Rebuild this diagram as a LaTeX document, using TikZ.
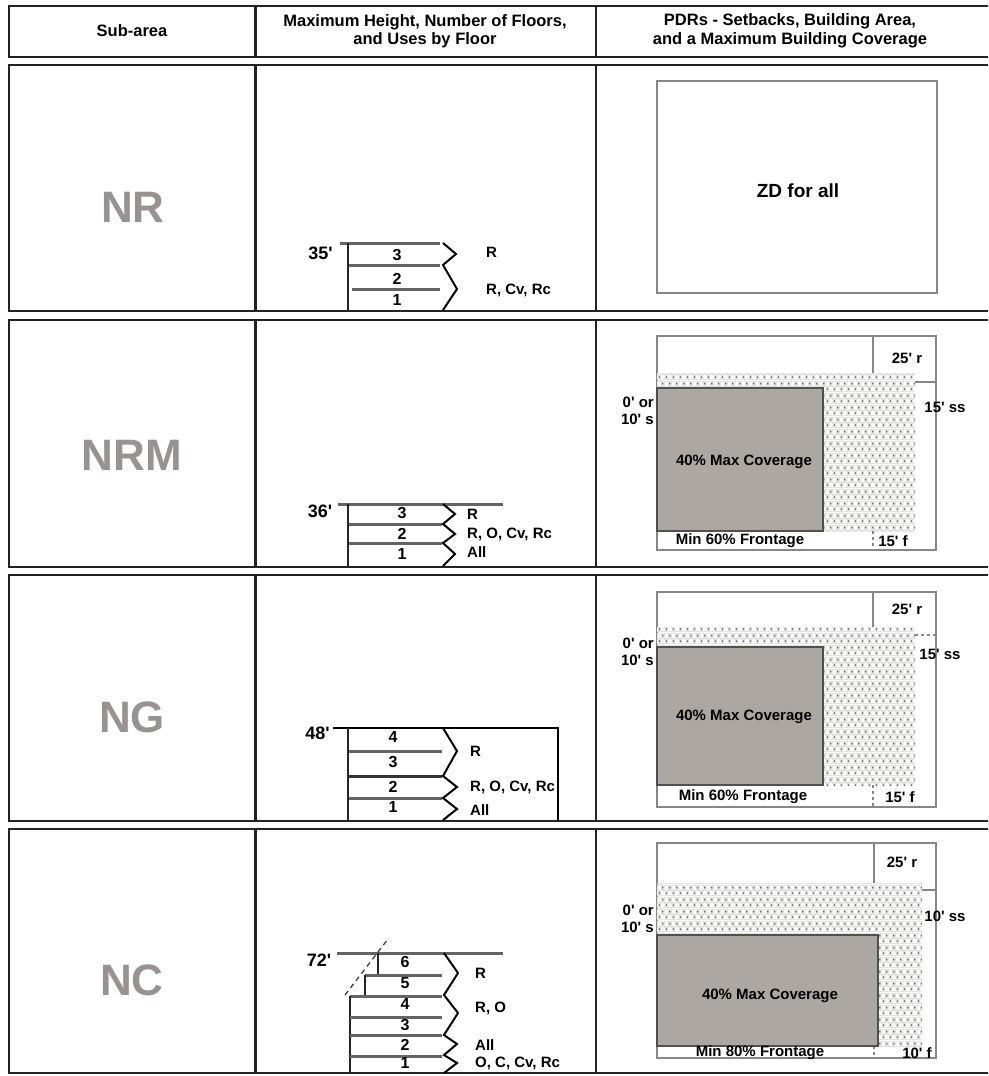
\documentclass[tikz,border=0pt]{standalone}
\usepackage{fontspec}
\setmainfont{Liberation Sans}
\usetikzlibrary{patterns.meta}
\definecolor{border}{RGB}{35,35,35}
\definecolor{areagray}{RGB}{152,146,146}
\definecolor{floorgray}{RGB}{100,100,100}
\definecolor{bldfill}{RGB}{172,167,162}
\definecolor{bldedge}{RGB}{80,80,80}
\definecolor{lotline}{RGB}{135,135,135}
\definecolor{stipbg}{RGB}{226,226,224}
\definecolor{stipdot}{RGB}{100,100,100}
\newcommand\qt{\textquotesingle}
\tikzdeclarepattern{
  name=stipple,
  type=colored,
  bounding box={(0pt,0pt) and (7pt,12pt)},
  tile size={(7pt,12pt)},
  code={
    \fill[stipbg] (0pt,0pt) rectangle (7pt,12pt);
    \fill[white] (5.25pt,3pt) circle (2.3pt);
    \fill[white] (1.75pt,9pt) circle (2.3pt);
    \fill[stipdot] (1.0pt,2.2pt) rectangle (2.5pt,3.8pt);
    \fill[stipdot] (4.5pt,8.2pt) rectangle (6.0pt,9.8pt);
  }
}
\tikzset{
  cell/.style={draw=border, line width=2.8pt},
  hdr/.style={font=\fontsize{16.5}{18.5}\selectfont\bfseries, align=center, inner sep=0pt},
  area/.style={font=\fontsize{44}{48}\selectfont\bfseries, text=areagray, inner sep=0pt},
  lbl/.style={font=\fontsize{15}{17}\selectfont\bfseries, inner sep=0pt},
  numlbl/.style={font=\fontsize{16}{18}\selectfont\bfseries, inner sep=0pt},
  zdlbl/.style={font=\fontsize{19}{21}\selectfont\bfseries, inner sep=0pt},
  htlbl/.style={font=\fontsize{18}{20}\selectfont\bfseries, inner sep=0pt},
  floorln/.style={draw=floorgray, line width=3pt},
  wallln/.style={draw=black!85, line width=2.6pt},
  chev/.style={draw=black, line width=2pt, line join=miter},
  lot/.style={draw=lotline, line width=1.3pt},
  stip/.style={pattern={stipple}},
  bld/.style={fill=bldfill, draw=bldedge, line width=2.2pt},
}
\begin{document}
\begin{tikzpicture}[x=1pt,y=-1pt]
\clip (0,0) rectangle (988,1076);
\fill[white] (0,0) rectangle (988,1076);
% ---------- table cells ----------
\foreach \t/\b in {6/57, 65/311, 320/567, 575/821, 829/1073}{
  \draw[cell] (995,\t) -- (9,\t) -- (9,\b) -- (995,\b);
  \draw[cell] (255.5,\t) -- (255.5,\b);
  \draw[cell] (596,\t) -- (596,\b);
}
% ---------- header ----------
\node[hdr] (hsub) at (132,31) {Sub-area};
\node[hdr] (hmax) at (425,31) {Maximum Height, Number of Floors,\\and Uses by Floor};
\node[hdr] (hpdr) at (790,31) {PDRs - Setbacks, Building Area,\\and a Maximum Building Coverage};
% ---------- sub-area names ----------
\node[area] (nr) at (133,207) {NR};
\node[area] (nrm) at (132,455) {NRM};
\node[area] (ng) at (132,717) {NG};
\node[area] (nc) at (132,980) {NC};

% ========== NR floors ==========
\draw[floorln] (340,243) -- (440,243);
\draw[floorln] (348,265) -- (440,265);
\draw[floorln] (352,289) -- (440,289);
\draw[wallln] (348,243) -- (348,311);
\draw[chev] (443,243) -- (456,254) -- (443,265) -- (457,289) -- (443,310);
\node[htlbl] (nrh) at (320.5,253) {35\qt};
\node[numlbl] (nrf3) at (397,255) {3};
\node[numlbl] (nrf2) at (397,279) {2};
\node[numlbl] (nrf1) at (397,300) {1};
\node[lbl, anchor=west] (nru1) at (486,252) {R};
\node[lbl, anchor=west] (nru2) at (486,290) {R, Cv, Rc};
% NR setbacks
\draw[lot] (657,81) rectangle (937,293);
\node[zdlbl] (zd) at (798,191) {ZD for all};

% ========== NRM floors ==========
\draw[floorln] (338,504) -- (503,504);
\draw[floorln] (348,524) -- (442,524);
\draw[floorln] (348,543) -- (442,543);
\draw[wallln] (348,504) -- (348,567);
\draw[chev] (443,504) -- (455,514) -- (443,524) -- (455,534) -- (443,543) -- (455,554) -- (443,566);
\node[htlbl] (nrmh) at (320,511) {36\qt};
\node[numlbl] (nrmf3) at (402,513) {3};
\node[numlbl] (nrmf2) at (402,534) {2};
\node[numlbl] (nrmf1) at (402,554) {1};
\node[lbl, anchor=west] (nrmu1) at (467,514) {R};
\node[lbl, anchor=west] (nrmu2) at (467,534) {R, O, Cv, Rc};
\node[lbl, anchor=west] (nrmu3) at (467,552) {All};
% NRM setbacks
\draw[lot] (657,336) rectangle (936,550);
\path[stip] (657,373) rectangle (915,531);
\draw[lot] (873,336) -- (873,373);
\draw[lot, dashed] (873,531) -- (873,550);
\draw[lot] (915,382) -- (936,382);
\draw[bld] (657,388) rectangle (823,531);
\node[lbl] (nrmcov) at (744,462) {40\% Max Coverage};
\node[lbl] (nrmr) at (907,358) {25\qt{} r};
\node[lbl, anchor=east, align=right] (nrms) at (654,410.5) {0\qt{} or\\10\qt{} s};
\node[lbl] (nrmss) at (945,407) {15\qt{} ss};
\node[lbl] (nrmfr) at (740,541) {Min 60\% Frontage};
\node[lbl] (nrmf) at (893,541) {15\qt{} f};

% ========== NG floors ==========
\draw[draw=black, line width=2.2pt] (333,728) -- (558,728) -- (558,821);
\draw[floorln] (348,751) -- (442,751);
\draw[floorln, draw=black!80] (348,776) -- (442,776);
\draw[floorln] (348,798) -- (442,798);
\draw[wallln] (348,728) -- (348,821);
\draw[chev] (443,728) -- (457,751) -- (443,776) -- (457,787) -- (443,798) -- (457,809) -- (443,820);
\node[htlbl] (ngh) at (317.5,733) {48\qt};
\node[numlbl] (ngf4) at (393,737) {4};
\node[numlbl] (ngf3) at (393,762) {3};
\node[numlbl] (ngf2) at (393,787) {2};
\node[numlbl] (ngf1) at (393,807) {1};
\node[lbl, anchor=west] (ngu1) at (470,751) {R};
\node[lbl, anchor=west] (ngu2) at (470,787) {R, O, Cv, Rc};
\node[lbl, anchor=west] (ngu3) at (470,810) {All};
% NG setbacks
\draw[lot] (657,592) rectangle (936,807);
\path[stip] (657,627) rectangle (915,785);
\draw[lot] (873,592) -- (873,627);
\draw[lot, dashed] (873,785) -- (873,807);
\draw[lot, dashed] (915,635) -- (936,635);
\draw[bld] (657,647) rectangle (823,785);
\node[lbl] (ngcov) at (744,717) {40\% Max Coverage};
\node[lbl] (ngr) at (907,609) {25\qt{} r};
\node[lbl, anchor=east, align=right] (ngs) at (654,652) {0\qt{} or\\10\qt{} s};
\node[lbl] (ngss) at (940,654) {15\qt{} ss};
\node[lbl] (ngfr) at (743,797) {Min 60\% Frontage};
\node[lbl] (ngf) at (900,797) {15\qt{} f};

% ========== NC floors ==========
\draw[floorln] (337,953) -- (503,953);
\draw[wallln] (378,953) -- (378,975);
\draw[floorln] (365,975) -- (442,975);
\draw[wallln] (365,975) -- (365,996);
\draw[floorln] (350,996) -- (442,996);
\draw[wallln] (350,996) -- (350,1073);
\draw[floorln] (350,1017) -- (442,1017);
\draw[floorln] (350,1035) -- (442,1035);
\draw[floorln] (350,1056) -- (442,1056);
\draw[black!80, line width=1.2pt, dash pattern=on 5pt off 4pt] (345,995) -- (388,939);
\draw[chev] (444,953) -- (458,973) -- (444,995) -- (458,1013) -- (444,1035) -- (457,1044) -- (444,1055) -- (457,1063) -- (444,1073);
\node[htlbl] (nch) at (319,960) {72\qt};
\node[numlbl] (ncf6) at (405,962) {6};
\node[numlbl] (ncf5) at (405,983) {5};
\node[numlbl] (ncf4) at (405,1004) {4};
\node[numlbl] (ncf3) at (405,1025) {3};
\node[numlbl] (ncf2) at (405,1045) {2};
\node[numlbl] (ncf1) at (405,1063) {1};
\node[lbl, anchor=west] (ncu1) at (475,973) {R};
\node[lbl, anchor=west] (ncu2) at (475,1008) {R, O};
\node[lbl, anchor=west] (ncu3) at (475,1045) {All};
\node[lbl, anchor=west] (ncu4) at (475,1063) {O, C, Cv, Rc};
% NC setbacks
\draw[lot] (657,843) rectangle (936,1058);
\path[stip] (657,883) rectangle (922,1046);
\draw[lot] (874,843) -- (874,883);
\draw[lot, dashed] (874,1046) -- (874,1058);
\draw[lot] (922,890) -- (936,890);
\draw[bld] (657,935) rectangle (878,1046);
\node[lbl] (nccov) at (770,996) {40\% Max Coverage};
\node[lbl] (ncr) at (902,862) {25\qt{} r};
\node[lbl, anchor=east, align=right] (ncs) at (654,919) {0\qt{} or\\10\qt{} s};
\node[lbl] (ncss) at (945,916) {10\qt{} ss};
\node[lbl] (ncfr) at (760,1053) {Min 80\% Frontage};
\node[lbl] (ncf) at (917,1053) {10\qt{} f};
\end{tikzpicture}
\end{document}
